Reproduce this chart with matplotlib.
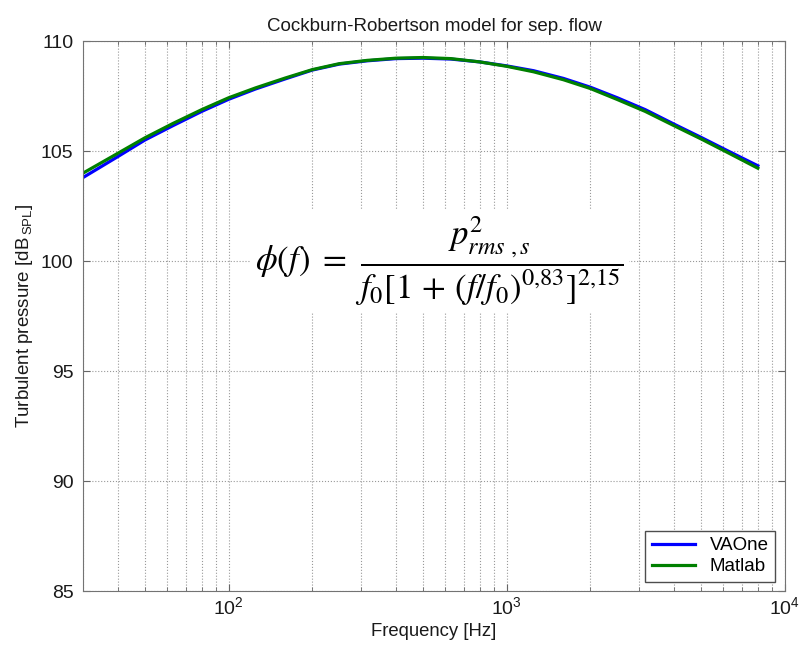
import matplotlib
matplotlib.use("Agg")
import matplotlib.pyplot as plt

plt.rcParams['font.family'] = ['Liberation Sans', 'DejaVu Sans']

# Frecuencias (bandas de tercio de octava) y niveles
freq = [30, 40, 50, 63, 80, 100, 125, 160, 200, 250, 315, 400, 500, 630,
        800, 1000, 1250, 1600, 2000, 2500, 3150, 4000, 5000, 6300, 8000]
vaone = [103.8, 104.75, 105.5, 106.15, 106.8, 107.35, 107.82, 108.28, 108.68, 108.95,
         109.1, 109.2, 109.22, 109.18, 109.05, 108.87, 108.65, 108.3, 107.9, 107.42,
         106.88, 106.22, 105.62, 104.98, 104.33]
matlab = [104.0, 104.9, 105.6, 106.25, 106.88, 107.42, 107.87, 108.32, 108.7, 108.97,
          109.12, 109.22, 109.25, 109.2, 109.05, 108.85, 108.6, 108.24, 107.84, 107.34,
          106.8, 106.15, 105.55, 104.9, 104.22]

fig = plt.figure(figsize=(8, 6.51), dpi=100)
ax = fig.add_axes([0.104, 0.092, 0.877, 0.845])

ax.semilogx(freq, vaone, color=(0, 0, 1), lw=2.3, label='VAOne')
ax.semilogx(freq, matlab, color=(0, 0.5, 0), lw=2.3, label='Matlab')

ax.set_xlim(30, 10000)
ax.set_ylim(85, 110)
ax.set_yticks([85, 90, 95, 100, 105, 110])
ax.grid(True, which='both', linestyle=':', color='0.6', lw=0.8)
ax.tick_params(which='both', direction='in', top=True, right=True, colors='0.4',
               labelcolor='0.1', labelsize=14)
ax.tick_params(which='major', length=5)
ax.tick_params(which='minor', length=3)
ax.tick_params(axis='y', pad=7)
for s in ax.spines.values():
    s.set_color('0.45')

ax.set_title('Cockburn-Robertson model for sep. flow', fontsize=13.5, color='0.1', pad=7)
ax.set_xlabel('Frequency [Hz]', fontsize=13.3, color='0.1')
ax.set_ylabel(r'Turbulent pressure [dB$_{\mathregular{\,SPL}}$]', fontsize=13.5, color='0.1')

ax.text(0.508, 0.6,
        r'$\phi(f)\ =\ \dfrac{p^{2}_{rms\ ,s}}{f_0[1\,+\,(f/f_0)^{0{,}83}]^{2{,}15}}$',
        transform=ax.transAxes, ha='center', va='center', fontsize=25,
        math_fontfamily='stix', bbox=dict(facecolor='white', edgecolor='none', pad=4))

leg = ax.legend(loc='lower right', fontsize=13.5, fancybox=False, framealpha=1,
                handlelength=2.3, borderpad=0.35, labelspacing=0.2)
leg.get_frame().set_edgecolor('0.3')

fig.savefig('out.png', dpi=100)
